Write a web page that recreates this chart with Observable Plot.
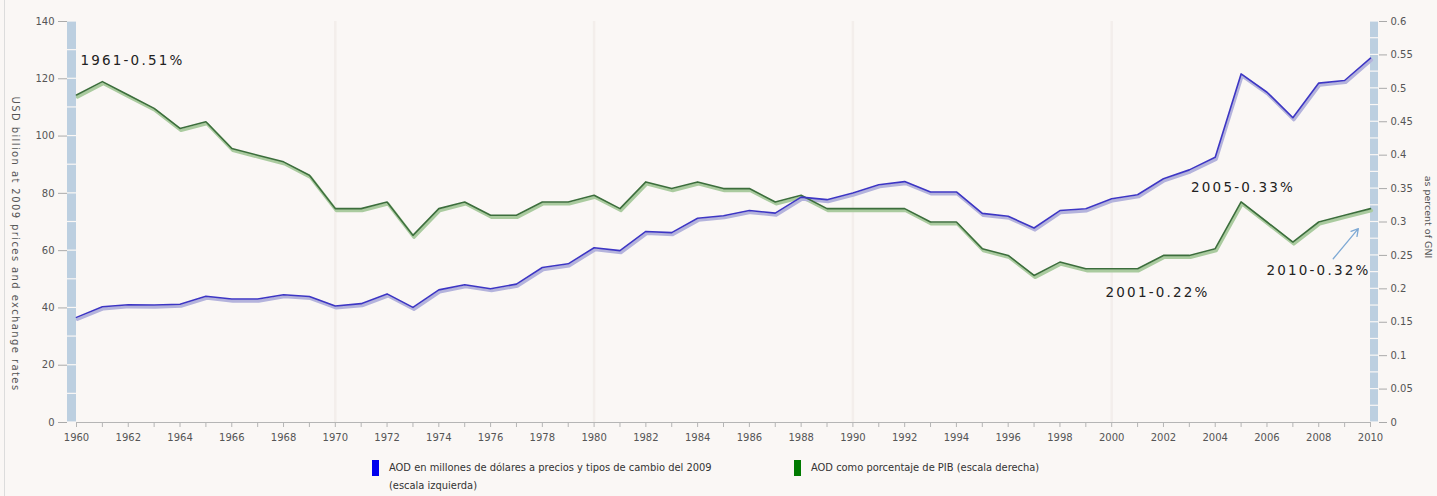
<!DOCTYPE html>
<html>
<head>
<meta charset="utf-8">
<script src="https://cdn.jsdelivr.net/npm/d3@7"></script>
<script src="https://cdn.jsdelivr.net/npm/@observablehq/plot@0.6"></script>
<style>
  html, body { margin: 0; padding: 0; background: #faf7f5; }
  body { width: 1437px; height: 496px; position: relative; overflow: hidden; font-family: "DejaVu Sans", Verdana, sans-serif; }
  #frame { position: absolute; left: 4px; top: 0; width: 1px; height: 496px; background: #dcdcdc; }
  #chart { position: absolute; left: 0; top: 0; }
  .legend { position: absolute; top: 459px; font-family: "DejaVu Sans Condensed", "DejaVu Sans", sans-serif; font-size: 11px; color: #333; line-height: 18px; }
  .legend .sw { position: absolute; left: 0; top: 1px; width: 7px; height: 16px; }
  .legend .tx { position: absolute; left: 17px; top: 0; white-space: nowrap; }
</style>
</head>
<body>
<div id="frame"></div>
<div id="chart"></div>
<div class="legend" id="leg1" style="left:372px;"><div class="sw" style="background:#0000ee"></div><div class="tx">AOD en millones de dólares a precios y tipos de cambio del 2009<br>(escala izquierda)</div></div>
<div class="legend" id="leg2" style="left:794px;"><div class="sw" style="background:#007a00"></div><div class="tx">AOD como porcentaje de PIB (escala derecha)</div></div>
<script>
const years = [1960,1961,1962,1963,1964,1965,1966,1967,1968,1969,
  1970,1971,1972,1973,1974,1975,1976,1977,1978,1979,
  1980,1981,1982,1983,1984,1985,1986,1987,1988,1989,
  1990,1991,1992,1993,1994,1995,1996,1997,1998,1999,
  2000,2001,2002,2003,2004,2005,2006,2007,2008,2009,2010];
// ODA, USD billion at 2009 prices (left scale)
const odaUsd = [36.7,40.4,41.1,41,41.3,44.1,43.1,43.1,44.6,44,
  40.7,41.5,44.9,40.2,46.3,48.1,46.7,48.3,54.1,55.4,
  61,60,66.7,66.3,71.3,72.2,74,73.1,78.7,77.8,
  80.1,83,84.1,80.5,80.5,73,72,67.9,74,74.6,
  78.1,79.5,85.1,88.2,92.6,121.7,115.3,106.4,118.5,119.4,127.2];
// ODA as percent of GNI (right scale)
const odaPct = [0.49,0.51,0.49,0.47,0.44,0.45,0.41,0.40,0.39,0.37,
  0.32,0.32,0.33,0.28,0.32,0.33,0.31,0.31,0.33,0.33,
  0.34,0.32,0.36,0.35,0.36,0.35,0.35,0.33,0.34,0.32,
  0.32,0.32,0.32,0.30,0.30,0.26,0.25,0.22,0.24,0.23,
  0.23,0.23,0.25,0.25,0.26,0.33,0.30,0.27,0.30,0.31,0.32];
const leftTicks = [0,20,40,60,80,100,120,140];
const rightTicks = [0,0.05,0.1,0.15,0.2,0.25,0.3,0.35,0.4,0.45,0.5,0.55,0.6];
const leftBands = [0,10,20,30,40,50,60,70,80,90,100,110,120,130];
const rightBands = [0,0.025,0.05,0.075,0.1,0.125,0.15,0.175,0.2,0.225,0.25,0.275,0.3,0.325,0.35,0.375,0.4,0.425,0.45,0.475,0.5,0.525,0.55,0.575];
const decadeLines = [1970,1980,1990,2000];
const annotYears = [1961, 2005, 2001, 2010];
const annotLabels = ["1961-0.51%", "2005-0.33%", "2001-0.22%", "2010-0.32%"];
const leftTitle = "USD billion at 2009 prices and exchange rates";
const rightTitle = "as percent of GNI";
const arrowFrom = {year: 2008.56, pct: 0.245};
const arrowTo = {year: 2009.53, pct: 0.29};

const leftMax = 140, rightMax = 0.6;
const k = leftMax / rightMax; // right-scale values mapped onto the left scale

const rows = years.map((y, i) => ({year: y, usd: odaUsd[i], pct: odaPct[i]}));
const annots = annotYears.map((y, i) => ({year: y, pct: odaPct[years.indexOf(y)], label: annotLabels[i]}));
const annotStyle = [
  {dx: -22, dy: -21, anchor: "start"},
  {dx: 2, dy: -14, anchor: "middle"},
  {dx: 20, dy: 24, anchor: "middle"},
  {dx: 0, dy: 62, anchor: "end"}
];

const blue = "#3d36c4", blueShadow = "#b4b3dc";
const green = "#3c6e3c", greenShadow = "#aacb9f";

const plot = Plot.plot({
  width: 1437,
  height: 450,
  marginLeft: 76,
  marginRight: 67,
  marginTop: 21,
  marginBottom: 28,
  style: {background: "transparent", fontFamily: "DejaVu Sans, Verdana, sans-serif", fontSize: "10px", color: "#555"},
  x: {domain: [1960, 2010]},
  y: {domain: [0, leftMax]},
  marks: [
    Plot.ruleX(decadeLines, {stroke: "#f3eeeb", strokeWidth: 2.5}),
    // axis side bars
    Plot.rect(leftBands, {x1: 1960, x2: 1960, y1: d => d, y2: d => d + 10, insetLeft: -9, insetTop: 0.6, insetBottom: 0.6, fill: "#bccfe0"}),
    Plot.rect(rightBands, {x1: 2010, x2: 2010, y1: d => d * k, y2: d => (d + 0.025) * k, insetRight: -8, insetTop: 0.6, insetBottom: 0.6, fill: "#bccfe0"}),
    Plot.ruleY([0], {stroke: "#b5b5b5"}),
    Plot.axisX({ticks: years, tickFormat: d => d % 2 === 0 ? String(d) : "", tickSize: 5, tickPadding: 6, stroke: "#b5b5b5", label: null, fill: "#555"}),
    Plot.axisY({anchor: "left", ticks: leftTicks, tickSize: 9, dx: -9, tickPadding: 4, stroke: "#aaa", label: null, fill: "#555"}),
    Plot.axisY({anchor: "right", ticks: rightTicks.map(v => v * k), tickFormat: d => String(+(d / k).toFixed(3)), tickSize: 8, dx: 8, tickPadding: 4, stroke: "#aaa", label: null, fill: "#555"}),
    Plot.text([leftTitle], {frameAnchor: "left", textAnchor: "middle", dx: -61, dy: 22, rotate: 90, fontSize: 10, fill: "#555"}),
    Plot.text([rightTitle], {frameAnchor: "right", textAnchor: "middle", dx: 58, dy: -5, rotate: 90, fontSize: 9.5, fill: "#555"}),
    // shadows
    Plot.line(rows, {x: "year", y: d => d.pct * k, dy: 2, dx: 1, stroke: greenShadow, strokeWidth: 3.2}),
    Plot.line(rows, {x: "year", y: "usd", dy: 2, dx: 1, stroke: blueShadow, strokeWidth: 3.2}),
    // lines
    Plot.line(rows, {x: "year", y: d => d.pct * k, stroke: green, strokeWidth: 1.6}),
    Plot.line(rows, {x: "year", y: "usd", stroke: blue, strokeWidth: 1.6}),
    // annotations
    ...annots.map((a, i) => Plot.text([a], {x: "year", y: d => d.pct * k, text: "label", dx: annotStyle[i].dx, dy: annotStyle[i].dy, textAnchor: annotStyle[i].anchor, fontSize: 13.5, fill: "#222"})),
    Plot.arrow([{}], {x1: () => arrowFrom.year, y1: () => arrowFrom.pct * k, x2: () => arrowTo.year, y2: () => arrowTo.pct * k, stroke: "#7ea9d4", strokeWidth: 1.3, headLength: 9})
  ]
});
document.getElementById("chart").appendChild(plot);
d3.select(plot).selectAll("text").filter(function() {
  return annotLabels.includes(this.textContent);
}).style("letter-spacing", "2.2px");
d3.select(plot).selectAll("text").filter(function() {
  return this.textContent === leftTitle;
}).style("letter-spacing", "1.4px");
</script>
</body>
</html>
